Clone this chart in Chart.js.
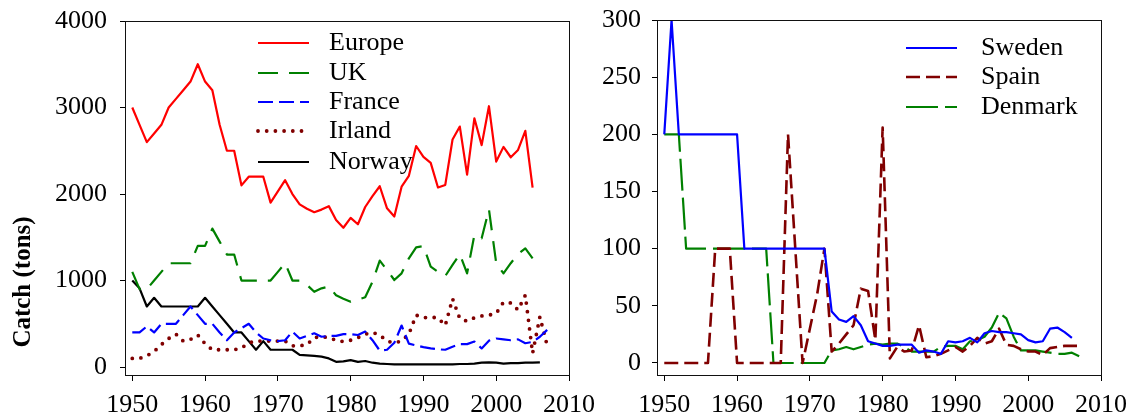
<!DOCTYPE html>
<html>
<head>
<meta charset="utf-8">
<script src="https://cdn.jsdelivr.net/npm/chart.js@4.4.1/dist/chart.umd.min.js"></script>
<style>
  html, body { margin: 0; padding: 0; background: #fff; }
  #wrap { position: relative; width: 1130px; height: 418px; overflow: hidden; background: #fff; }
  canvas { position: absolute; top: 0; }
</style>
</head>
<body>
<div id="wrap">
  <canvas id="catchEurope" width="596" height="418" style="left:0"></canvas>
  <canvas id="catchNordicSpain" width="534" height="418" style="left:596px"></canvas>
</div>
<script>
// Years of record
const years = [
  1950, 1951, 1952, 1953, 1954, 1955, 1956, 1957, 1958, 1959,
  1960, 1961, 1962, 1963, 1964, 1965, 1966, 1967, 1968, 1969,
  1970, 1971, 1972, 1973, 1974, 1975, 1976, 1977, 1978, 1979,
  1980, 1981, 1982, 1983, 1984, 1985, 1986, 1987, 1988, 1989,
  1990, 1991, 1992, 1993, 1994, 1995, 1996, 1997, 1998, 1999,
  2000, 2001, 2002, 2003, 2004, 2005, 2006, 2007
];

// Catch in tons, left panel
const europe = [
  3000, 2800, 2600, 2700, 2800, 3000, 3100, 3200, 3300, 3500,
  3300, 3200, 2800, 2500, 2500, 2100, 2200, 2200, 2200, 1900,
  2030, 2160, 2000, 1880, 1830, 1790, 1820, 1860, 1700, 1610,
  1725, 1650, 1850, 1975, 2090, 1835, 1740, 2085, 2210, 2555,
  2430, 2360, 2075, 2105, 2630, 2780, 2225, 2875, 2565, 3015,
  2375, 2545, 2425, 2510, 2730, 2075, null, null
];
const uk = [
  1100, 900, 900, 1000, 1100, 1200, 1200, 1200, 1200, 1400,
  1400, 1600, 1450, 1300, 1300, 1000, 1000, 1000, 1000, 1000,
  1100, 1200, 1000, 1000, 950, 870, 910, 930, 830, 790,
  755, 780, 806, 986, 1230, 1120, 1006, 1083, 1257, 1384,
  1399, 1160, 1100, 1052, 1180, 1306, 1083, 1526, 1488, 1823,
  1199, 1083, 1200, 1306, 1372, 1257, null, null
];
const france = [
  400, 400, 470, 400, 500, 500, 500, 600, 700, 600,
  500, 500, 400, 310, 400, 450, 500, 400, 330, 310,
  300, 310, 410, 330, 360, 390, 350, 360, 360, 380,
  380, 370, 410, 310, 190, 200, 280, 480, 270, 250,
  230, 215, 205, 200, 235, 265, 265, 295, 215, 305,
  330, 320, 310, 320, 275, 290, 350, 430
];
const irland = [
  100, 100, 130, 180, 260, 330, 380, 300, 320, 370,
  270, 200, 200, 200, 200, 220, 280, 300, 300, 300,
  300, 300, 245, 245, 260, 340, 350, 340, 310, 295,
  310, 340, 380, 400, 370, 300, 280, 300, 380, 600,
  570, 575, 570, 480, 790, 560, 530, 570, 590, 600,
  620, 750, 740, 660, 830, 160, 580, 250
];
const norway = [
  1000, 910, 700, 800, 700, 700, 700, 700, 700, 700,
  800, 700, 600, 500, 400, 400, 300, 200, 300, 200,
  200, 200, 200, 140, 135, 130, 120, 100, 60, 65,
  80, 60, 70, 50, 40, 35, 30, 30, 30, 30,
  30, 30, 30, 30, 30, 35, 35, 40, 50, 55,
  50, 40, 45, 45, 50, 50, 55, null
];

// Catch in tons, right panel
const sweden = [
  200, 300, 200, 200, 200, 200, 200, 200, 200, 200,
  200, 100, 100, 100, 100, 100, 100, 100, 100, 100,
  100, 100, 100, 45, 38, 36, 41, 33, 19, 17,
  15, 15, 16, 16, 16, 9, 11, 10, 8, 19,
  18, 19, 22, 18, 26, 28, 27, 27, 26, 25,
  20, 18, 19, 30, 31, 27, 22, null
];
const spain = [
  0, 0, 0, 0, 0, 0, 0, 100, 100, 100,
  0, 0, 0, 0, 0, 0, 0, 200, 100, 0,
  30, 60, 100, 10, 17, 25, 33, 65, 63, 20,
  206, 4, 14, 10, 11, 33, 5, 6, 8, 11,
  14, 10, 15, 22, 17, 19, 30, 16, 15, 12,
  10, 10, 7, 13, 14, 15, 15, 15
];
const denmark = [
  200, 200, 200, 100, 100, 100, 100, 100, 100, 100,
  100, 100, 100, 100, 100, 0, 0, 0, 0, 0,
  0, 0, 0, 11, 12, 14, 12, 14, 16, 17,
  16, 17, 17, 14, 10, 10, 10, 10, 14, 15,
  15, 12, 19, 20, 23, 31, 44, 39, 23, 11,
  11, 11, 10, 9, 8, 8, 9, 6
];

// Axis tick values
const yearTicks = [1950, 1960, 1970, 1980, 1990, 2000, 2010];
const leftCatchTicks = [0, 1000, 2000, 3000, 4000];
const rightCatchTicks = [0, 50, 100, 150, 200, 250, 300];

const SERIF = "'Liberation Serif', 'Times New Roman', Times, serif";
const tickFont = { family: SERIF, size: 26, lineHeight: 1.2 };

function series(label, values, color, width, dash, cap) {
  return {
    label,
    data: years.map((y, i) => ({ x: y, y: values[i] })),
    borderColor: color,
    backgroundColor: color,
    borderWidth: width,
    borderDash: dash || [],
    borderCapStyle: cap || 'butt',
    borderJoinStyle: 'round',
    pointRadius: 0,
    pointHoverRadius: 0,
    tension: 0,
    fill: false,
    spanGaps: false
  };
}

function yearAxis() {
  return {
    type: 'linear',
    min: 1949,
    max: 2010,
    afterBuildTicks: s => { s.ticks = yearTicks.map(v => ({ value: v })); },
    afterFit: s => { s.height = 43; s.paddingLeft = 0; s.paddingRight = 0; },
    ticks: { font: tickFont, color: '#000', padding: 9, maxRotation: 0, autoSkip: false, callback: v => String(v) },
    grid: { display: true, drawOnChartArea: false, drawTicks: true, tickLength: 6, color: '#000', lineWidth: 1 },
    border: { display: false }
  };
}

function catchAxis(min, max, tickValues, width, pad) {
  return {
    type: 'linear',
    min, max,
    afterBuildTicks: s => { s.ticks = tickValues.map(v => ({ value: v })); },
    afterFit: s => { s.width = width; s.paddingTop = 0; s.paddingBottom = 0; },
    ticks: { font: tickFont, color: '#000', padding: pad, autoSkip: false, callback: v => String(v) },
    grid: { display: true, drawOnChartArea: false, drawTicks: true, tickLength: 5, color: '#000', lineWidth: 1 },
    border: { display: false }
  };
}

// Box around the plotting area
const framePlugin = {
  id: 'frame',
  afterDraw(chart) {
    const { ctx, chartArea: a } = chart;
    ctx.save();
    ctx.strokeStyle = '#111';
    ctx.lineWidth = 1;
    ctx.strokeRect(Math.round(a.left) + 0.5, Math.round(a.top) + 0.5,
      Math.round(a.right - a.left), Math.round(a.bottom - a.top));
    ctx.restore();
  }
};

// Legend drawn inside the plotting area, one row per dataset
const inlineLegendPlugin = {
  id: 'inlineLegend',
  afterDatasetsDraw(chart, args, o) {
    const { ctx, chartArea: a } = chart;
    chart.data.datasets.forEach((ds, i) => {
      const y = a.top + o.rows[i];
      ctx.save();
      ctx.strokeStyle = ds.borderColor;
      ctx.lineWidth = ds.borderWidth;
      ctx.setLineDash(ds.borderDash || []);
      ctx.lineCap = ds.borderCapStyle || 'butt';
      ctx.beginPath();
      ctx.moveTo(a.left + o.lineStart, y);
      ctx.lineTo(a.left + o.lineEnd, y);
      ctx.stroke();
      ctx.restore();
      ctx.save();
      ctx.fillStyle = '#000';
      ctx.font = o.fontSize + 'px ' + SERIF;
      ctx.textBaseline = 'middle';
      ctx.textAlign = 'left';
      ctx.fillText(ds.label, a.left + o.textStart, y);
      ctx.restore();
    });
  }
};

// Rotated value-axis title
const axisTitlePlugin = {
  id: 'axisTitle',
  afterDraw(chart, args, o) {
    if (!o || !o.text) return;
    const { ctx, chartArea: a } = chart;
    ctx.save();
    ctx.translate(o.x, a.bottom - o.fromBottom);
    ctx.rotate(-Math.PI / 2);
    ctx.fillStyle = '#000';
    ctx.font = 'bold ' + o.fontSize + 'px ' + SERIF;
    ctx.textAlign = 'center';
    ctx.textBaseline = 'middle';
    ctx.fillText(o.text, 0, 0);
    ctx.restore();
  }
};

Chart.defaults.font.family = SERIF;

new Chart(document.getElementById('catchEurope'), {
  type: 'line',
  data: {
    datasets: [
      series('Europe', europe, '#ff0000', 2.2),
      series('UK', uk, '#008000', 2.2, [20, 11]),
      series('France', france, '#0000ff', 2.2, [15, 6]),
      series('Irland', irland, '#800000', 3.8, [0, 8.7], 'round'),
      series('Norway', norway, '#000000', 2.2)
    ]
  },
  options: {
    responsive: false,
    animation: false,
    devicePixelRatio: 1,
    layout: { padding: { top: 21, right: 27, bottom: 0, left: 0 } },
    scales: {
      x: yearAxis(),
      y: catchAxis(-92, 4000, leftCatchTicks, 125, 13)
    },
    plugins: {
      legend: { display: false },
      tooltip: { enabled: false },
      inlineLegend: { rows: [22, 52, 81, 110, 141], lineStart: 133, lineEnd: 184, textStart: 204, fontSize: 26 },
      axisTitle: { text: 'Catch (tons)', x: 24, fromBottom: 93, fontSize: 25 }
    }
  },
  plugins: [framePlugin, inlineLegendPlugin, axisTitlePlugin]
});

new Chart(document.getElementById('catchNordicSpain'), {
  type: 'line',
  data: {
    datasets: [
      series('Sweden', sweden, '#0000ff', 2.2),
      series('Spain', spain, '#800000', 2.6, [14, 6]),
      series('Denmark', denmark, '#008000', 2.2, [32, 7])
    ]
  },
  options: {
    responsive: false,
    animation: false,
    devicePixelRatio: 1,
    layout: { padding: { top: 20, right: 29, bottom: 0, left: 0 } },
    scales: {
      x: yearAxis(),
      y: catchAxis(-10.5, 300, rightCatchTicks, 61, 11)
    },
    plugins: {
      legend: { display: false },
      tooltip: { enabled: false },
      inlineLegend: { rows: [28, 57, 87], lineStart: 249, lineEnd: 300, textStart: 324, fontSize: 26 }
    }
  },
  plugins: [framePlugin, inlineLegendPlugin]
});
</script>
</body>
</html>
